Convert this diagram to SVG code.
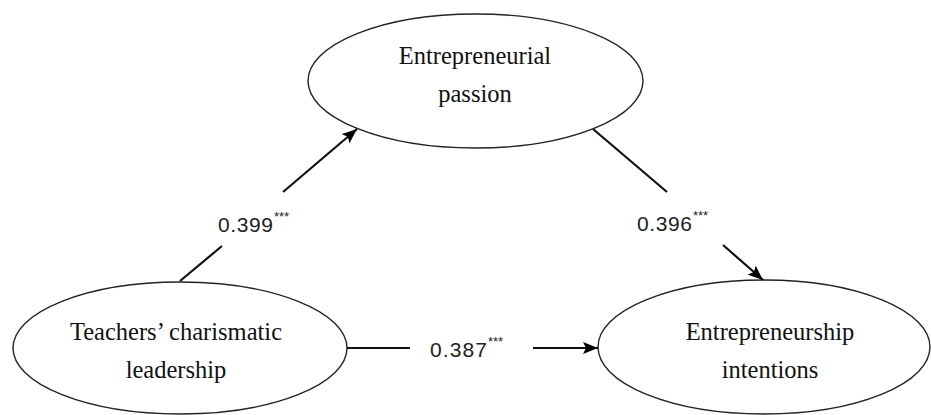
<svg xmlns="http://www.w3.org/2000/svg" width="931" height="415" viewBox="0 0 931 415">
<defs>
<marker id="arr" markerUnits="userSpaceOnUse" markerWidth="16" markerHeight="12" refX="15" refY="6" orient="auto">
<path d="M0,0 L15,6 L0,12 L3,6 Z" fill="#000"/>
</marker>
<style>
.node ellipse{fill:#fff;stroke:#222;stroke-width:1.4}
.node text{font-family:"Liberation Serif","Times New Roman",serif;font-size:24.5px;fill:#111;text-anchor:middle}
.edge line{stroke:#111;stroke-width:2.2}
.lbl{font-family:"Liberation Sans",Arial,sans-serif;font-size:21px;fill:#222}
.star{font-size:13px}
</style>
</defs>
<rect width="931" height="415" fill="#fff"/>
<g id="passion" class="node">
<ellipse cx="475.5" cy="81" rx="167.5" ry="67"/>
<text x="475" y="64">Entrepreneurial</text>
<text x="475" y="102">passion</text>
</g>
<g id="leadership" class="node">
<ellipse cx="180" cy="348" rx="167" ry="66"/>
<text x="176" y="340">Teachers’ charismatic</text>
<text x="176" y="378">leadership</text>
</g>
<g id="intentions" class="node">
<ellipse cx="764" cy="347" rx="166" ry="67"/>
<text x="770" y="340">Entrepreneurship</text>
<text x="770" y="378">intentions</text>
</g>
<g id="connectors" class="edge">
<line x1="180" y1="281" x2="222" y2="246"/>
<line x1="283" y1="192" x2="357" y2="129" marker-end="url(#arr)"/>
<line x1="593" y1="129" x2="667" y2="192"/>
<line x1="723" y1="245" x2="763" y2="280" marker-end="url(#arr)"/>
<line x1="347" y1="348" x2="410" y2="348"/>
<line x1="533" y1="348" x2="598" y2="348" marker-end="url(#arr)"/>
</g>
<g id="labels">
<text class="lbl" x="218" y="232" textLength="55">0.399</text>
<text class="lbl star" x="274" y="221">***</text>
<text class="lbl" x="637" y="231" textLength="55">0.396</text>
<text class="lbl star" x="693" y="220">***</text>
<text class="lbl" x="430" y="357" textLength="57">0.387</text>
<text class="lbl star" x="488" y="346">***</text>
</g>
</svg>
